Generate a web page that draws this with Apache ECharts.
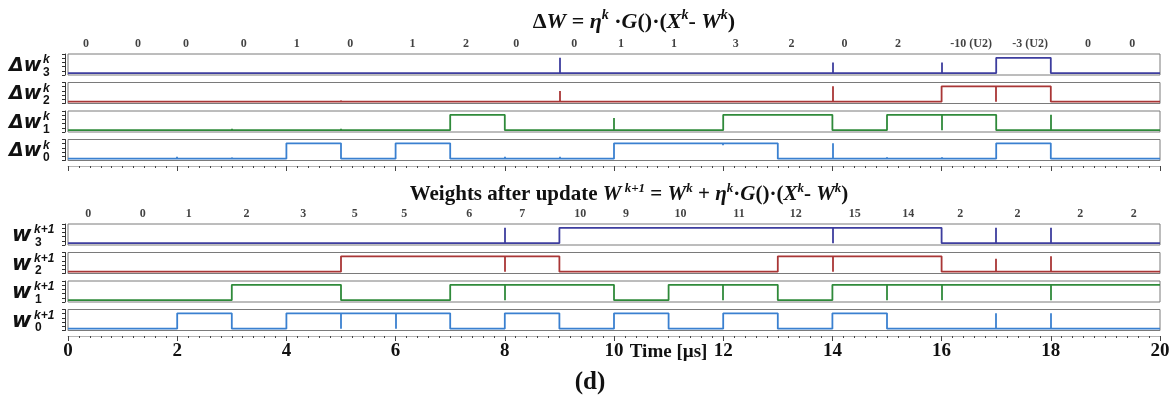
<!DOCTYPE html>
<html>
<head>
<meta charset="utf-8">
<script src="https://cdn.jsdelivr.net/npm/echarts@6/dist/echarts.min.js"></script>
<style>
html,body{margin:0;padding:0;background:#fff;}
#chart{width:1174px;height:410px;}
</style>
</head>
<body>
<div id="chart"></div>
<script>
// ---------------- DATA ----------------
// time axis (µs)
const timeMin = 0;
const timeMax = 20;
const timeTicks = [0, 2, 4, 6, 8, 10, 12, 14, 16, 18, 20];

// ΔW bits, one level per 1 µs interval (0-1, 1-2, ... 19-20)
const dW3 = [0,0,0,0,0,0,0,0,0,0,0,0,0,0,0,0,0,1,0,0];
const dW2 = [0,0,0,0,0,0,0,0,0,0,0,0,0,0,0,0,1,1,0,0];
const dW1 = [0,0,0,0,0,0,0,1,0,0,0,0,1,1,0,1,1,0,0,0];
const dW0 = [0,0,0,0,1,0,1,0,0,0,1,1,1,0,0,0,0,1,0,0];
// glitches: [time, from level, to level]
const dW3Glitch = [[9,0,1],[14,0,0.7],[16,0,0.7]];
const dW2Glitch = [[5,0,0.08],[9,0,0.7],[14,0,1],[17,0,1]];
const dW1Glitch = [[3,0,0.1],[5,0,0.1],[10,0,0.8],[16,0,1],[18,0,1]];
const dW0Glitch = [[2,0,0.12],[3,0,0.08],[8,0,0.12],[9,0,0.12],[12,1,0.88],[14,0,1],[15,0,0.1],[16,0,0.1]];

// weights after update, W^{k+1}
const w3 = [0,0,0,0,0,0,0,0,0,1,1,1,1,1,1,1,0,0,0,0];
const w2 = [0,0,0,0,0,1,1,1,1,0,0,0,0,1,1,1,0,0,0,0];
const w1 = [0,0,0,1,1,0,0,1,1,1,0,1,1,0,1,1,1,1,1,1];
const w0 = [0,0,1,0,1,1,1,0,1,0,1,0,1,0,1,0,0,0,0,0];
const w3Glitch = [[8,0,1],[14,0,1],[17,0,1],[18,0,1]];
const w2Glitch = [[8,0,1],[14,0,1],[17,0,0.85],[18,0,1]];
const w1Glitch = [[8,0,1],[12,0,1],[15,0,1],[16,0,1],[18,0,1]];
const w0Glitch = [[5,0,1],[6,0,1],[17,0,1],[18,0,1]];

// value annotations above each group
const dLabels = ['0','0','0','0','1','0','1','2','0','0','1','1','3','2','0','2','-10 (U2)','-3 (U2)','0','0'];
const dLabelT = [0.33,1.28,2.16,3.22,4.19,5.17,6.31,7.29,8.21,9.27,10.13,11.1,12.23,13.25,14.22,15.2,16.54,17.62,18.68,19.49];
const wLabels = ['0','0','1','2','3','5','5','6','7','10','9','10','11','12','15','14','2','2','2','2'];
const wLabelT = [0.37,1.37,2.21,3.27,4.31,5.25,6.16,7.35,8.32,9.38,10.22,11.22,12.29,13.33,14.41,15.39,16.34,17.39,18.54,19.52];

const rowNames = ['Δw','Δw','Δw','Δw','w','w','w','w'];
const rowSup = ['k','k','k','k','k+1','k+1','k+1','k+1'];
const rowSub = ['3','2','1','0','3','2','1','0'];
const axisName = 'Time [µs]';
const figLabel = '(d)';

// ---------------- STYLE / LAYOUT ----------------
const rowLevels = [dW3, dW2, dW1, dW0, w3, w2, w1, w0];
const rowGlitch = [dW3Glitch, dW2Glitch, dW1Glitch, dW0Glitch, w3Glitch, w2Glitch, w1Glitch, w0Glitch];
const colors = ['#3d3d9e','#a93636','#2f8a3a','#3a80d0','#3d3d9e','#a93636','#2f8a3a','#3a80d0'];
const rowTops = [54, 82.5, 111, 139.5, 224, 252.5, 281, 309.5];
const ROW_H = 21, LEFT = 68, RIGHT = 14;
const SERIF = '"Liberation Serif","Times New Roman",serif';
const SANS = '"DejaVu Sans",Verdana,sans-serif';
const SANS2 = '"Liberation Sans",Arial,sans-serif';

const chart = echarts.init(document.getElementById('chart'), null, {renderer:'canvas'});

const grid = [], xAxis = [], yAxis = [], series = [];
rowTops.forEach((top, i) => {
  grid.push({left: LEFT, right: RIGHT, top: top, height: ROW_H, show: true,
    borderColor: '#7a7a7a', borderWidth: 1, backgroundColor: '#fff'});
  xAxis.push({gridIndex: i, type: 'value', min: timeMin, max: timeMax, show: false});
  // data axis
  yAxis.push({gridIndex: i, type: 'value', min: -0.12, max: 1.25, show: false});
  // small ruler at the left of each row
  yAxis.push({gridIndex: i, type: 'value', min: 0, max: 5, interval: 1, position: 'left', offset: 3,
    axisLine: {show: true, lineStyle: {color: '#333', width: 1}},
    axisTick: {show: true, length: 3, lineStyle: {color: '#333'}},
    axisLabel: {show: false}, splitLine: {show: false}});
  const lv = rowLevels[i];
  const data = lv.map((v, k) => [k, v]);
  data.push([timeMax, lv[lv.length - 1]]);
  series.push({
    type: 'line', xAxisIndex: i, yAxisIndex: i * 2, step: 'end', data: data,
    showSymbol: false, symbol: 'none', silent: true,
    lineStyle: {color: colors[i], width: 1.8},
    markLine: {
      silent: true, symbol: ['none','none'], label: {show: false}, animation: false,
      lineStyle: {color: colors[i], width: 1.8, type: 'solid'},
      emphasis: {disabled: true},
      data: rowGlitch[i].map(g => [{coord: [g[0], g[1]]}, {coord: [g[0], g[2]]}])
    }
  });
});

// label grids (indices 8, 9)
const labelGridTops = [38, 208];
[[dLabelT, dLabels], [wLabelT, wLabels]].forEach((pair, j) => {
  const gi = 8 + j;
  grid.push({left: LEFT, right: RIGHT, top: labelGridTops[j], height: 12, show: false});
  xAxis.push({gridIndex: gi, type: 'value', min: timeMin, max: timeMax, show: false});
  yAxis.push({gridIndex: gi, type: 'value', min: -1, max: 1, show: false});
  series.push({
    type: 'scatter', xAxisIndex: gi, yAxisIndex: 16 + j, symbolSize: 1, silent: true,
    itemStyle: {color: 'rgba(0,0,0,0)'},
    data: pair[0].map((t, k) => [t, 0, pair[1][k]]),
    label: {show: true, position: 'inside', formatter: p => p.data[2], color: '#111',
      fontFamily: SERIF, fontWeight: 'bold', fontSize: 12}
  });
});

// time axis grids (indices 10, 11)
const axisGridTops = [165, 335];
axisGridTops.forEach((top, j) => {
  const gi = 10 + j;
  grid.push({left: LEFT, right: RIGHT, top: top, height: 1, show: false});
  xAxis.push({
    gridIndex: gi, type: 'value', min: timeMin, max: timeMax, interval: 2, position: 'bottom',
    axisLine: {show: true, lineStyle: {color: '#b5b5b5', width: 1}},
    axisTick: {show: true, length: 5, lineStyle: {color: '#444', width: 1}},
    minorTick: {show: true, splitNumber: 10, length: 2, lineStyle: {color: '#444', width: 1}},
    axisLabel: {show: j === 1, color: '#111', fontFamily: SERIF, fontWeight: 'bold', fontSize: 19, margin: 6,
      formatter: v => timeTicks.indexOf(v) >= 0 ? String(v) : ''},
    splitLine: {show: false}
  });
  yAxis.push({gridIndex: gi, type: 'value', min: 0, max: 1, show: false});
});

chart.setOption({animation: false, backgroundColor: '#fff', grid, xAxis, yAxis, series});

// ---------------- GRAPHICS (titles, row labels) ----------------
const g = [];
function richSet(size, supSize, lh) {
  return {
    n: {fontFamily: SERIF, fontWeight: 'bold', fontSize: size, lineHeight: lh, fill: '#111', color: '#111'},
    i: {fontFamily: SERIF, fontWeight: 'bold', fontStyle: 'italic', fontSize: size, lineHeight: lh, fill: '#111', color: '#111'},
    s: {fontFamily: SERIF, fontWeight: 'bold', fontStyle: 'italic', fontSize: supSize, lineHeight: lh, verticalAlign: 'top', fill: '#111', color: '#111'}
  };
}
g.push({type: 'text', x: 634, y: 22, style: {
  text: '{n|Δ}{i|W}{n| = }{i|η}{s|k}{n| ·}{i|G}{n|()·(}{i|X}{s|k}{n|- }{i|W}{s|k}{n|)}',
  rich: richSet(22, 14, 28), align: 'center', verticalAlign: 'middle', textAlign: 'center', textVerticalAlign: 'middle'}});
g.push({type: 'text', x: 629, y: 195, style: {
  text: '{n|Weights after update }{i|W}{s| k+1}{n| = }{i|W}{s|k}{n| + }{i|η}{s|k}{n|·}{i|G}{n|()·(}{i|X}{s|k}{n|- }{i|W}{s|k}{n|)}',
  rich: richSet(21, 13, 26), align: 'center', verticalAlign: 'middle', textAlign: 'center', textVerticalAlign: 'middle'}});
g.push({type: 'text', x: 590, y: 383, style: {text: figLabel, font: 'bold 25px ' + SERIF, fill: '#111',
  align: 'center', verticalAlign: 'middle', textAlign: 'center', textVerticalAlign: 'middle'}});

rowTops.forEach((top, i) => {
  const cy = top + ROW_H / 2;
  const bottomGroup = i >= 4;
  g.push({type: 'text', x: bottomGroup ? 12 : 9, y: cy + 1.5, style: {text: rowNames[i],
    font: 'italic bold ' + (bottomGroup ? 21 : 19) + 'px ' + SANS, fill: '#111', verticalAlign: 'middle', textVerticalAlign: 'middle'}});
  g.push({type: 'text', x: bottomGroup ? 34 : 43, y: cy - 4.5, style: {text: rowSup[i],
    font: 'italic bold 12px ' + SANS2, fill: '#111', verticalAlign: 'middle', textVerticalAlign: 'middle'}});
  g.push({type: 'text', x: bottomGroup ? 35 : 43, y: cy + 8, style: {text: rowSub[i],
    font: 'bold 12px ' + SANS2, fill: '#111', verticalAlign: 'middle', textVerticalAlign: 'middle'}});
});

// axis name between 10 and 12 on the bottom time axis
const nameX = chart.convertToPixel({xAxisIndex: 11}, 11);
g.push({type: 'text', x: nameX, y: 352, style: {text: axisName, font: 'bold 19px ' + SERIF, fill: '#111',
  align: 'center', verticalAlign: 'middle', textAlign: 'center', textVerticalAlign: 'middle'}});

chart.setOption({graphic: g});
</script>
</body>
</html>
